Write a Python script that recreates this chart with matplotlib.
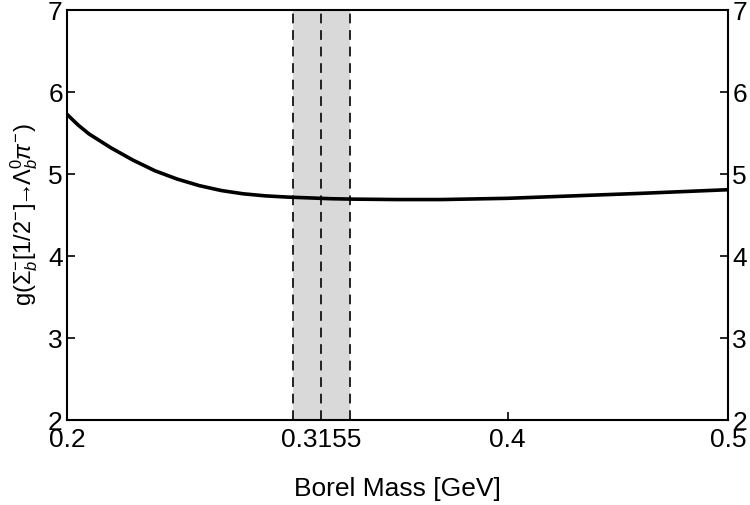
import matplotlib
matplotlib.use("Agg")
import matplotlib.pyplot as plt

plt.rcParams['font.family'] = ['Liberation Sans', 'DejaVu Sans']
plt.rcParams['mathtext.fontset'] = 'custom'
plt.rcParams['mathtext.rm'] = 'Liberation Sans'
plt.rcParams['mathtext.it'] = 'Liberation Sans:italic'
plt.rcParams['mathtext.bf'] = 'Liberation Sans:bold'

# ==== DATA ====
borel_mass = [0.200, 0.205, 0.210, 0.220, 0.230, 0.240, 0.250, 0.260, 0.270,
              0.280, 0.290, 0.300, 0.310, 0.320, 0.330, 0.350, 0.370, 0.400,
              0.430, 0.460, 0.500]
coupling = [5.73, 5.60, 5.49, 5.32, 5.17, 5.04, 4.94, 4.86, 4.80,
            4.76, 4.735, 4.72, 4.71, 4.70, 4.695, 4.69, 4.69, 4.705,
            4.735, 4.765, 4.81]

band_center = 0.3155
band_low = 0.3027
band_high = 0.3284

x_ticks = [0.2, 0.3155, 0.4, 0.5]
x_tick_labels = ["0.2", "0.3155", "0.4", "0.5"]
y_ticks = [2, 3, 4, 5, 6, 7]

# ==== PLOT ====
fig = plt.figure(figsize=(7.5, 5.05), dpi=100)
ax = fig.add_axes([0.0893, 0.168, 0.8814, 0.812])

ax.axvspan(band_low, band_high, color='#d9d9d9', lw=0, zorder=1)
for xv in (band_low, band_center, band_high):
    ax.axvline(xv, color='#222222', lw=1.4, ls=(0, (5, 3.5)), zorder=2)

ax.plot(borel_mass, coupling, color='black', lw=2.6, zorder=3)

ax.set_xlim(0.2, 0.5)
ax.set_ylim(2, 7)
ax.set_xticks(x_ticks)
ax.set_xticklabels(x_tick_labels)
ax.set_yticks(y_ticks)

ax.tick_params(axis='both', direction='in', length=6, width=1.2, labelsize=19)
ax.tick_params(axis='y', left=True, right=True, labelleft=True, labelright=True, pad=3)
ax.tick_params(axis='x', top=False, pad=6)
for s in ax.spines.values():
    s.set_linewidth(1.5)

ax.set_xlabel("Borel Mass [GeV]", fontsize=19, labelpad=18)
ax.set_ylabel(r"g($\Sigma_b^{-}$[1/2$^{-}$]$\!\!\rightarrow\!\!\Lambda_b^0\pi^{-}$)",
              fontsize=17, labelpad=6)

fig.savefig("out.png", dpi=100)
plt.close(fig)
